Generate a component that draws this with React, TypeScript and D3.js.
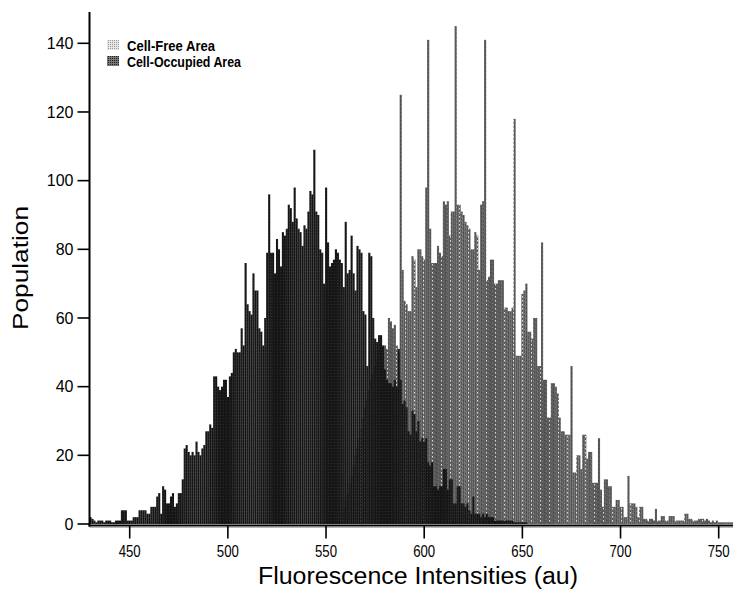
import React from "react";
import * as d3 from "d3";

// Histogram bins are 1 au wide; first bin of each series
const occupiedStart = 430;
const cellOccupied = [
  2, 1.5, 1, 0.5, 1, 1, 1, 0.5, 1, 1, 1, 0.5, 0.5, 1, 1, 1,
  4, 4, 4, 1, 1, 1, 2, 2, 2, 4, 4, 4, 4, 3, 3,
  5, 5, 5, 8, 9, 3, 11, 10, 6, 6, 8, 9, 5, 6, 9, 9, 13,
  22, 23, 21, 20, 21, 20, 24, 21, 20, 22, 23, 27, 27, 29, 28,
  43, 43, 40, 39, 40, 42, 42, 37, 43, 44, 50, 51, 50, 50, 57, 52,
  76, 64, 62, 61, 73, 68, 68, 57, 56, 52, 60, 79, 96, 79, 79, 73,
  83, 80, 75, 85, 84, 86, 93, 92, 88, 98, 89, 86, 85, 81, 87, 86,
  91, 97, 96, 109, 91, 90, 80, 79, 70, 98, 82, 75, 76, 77, 80, 79,
  77, 76, 69, 88, 73, 74, 84, 73, 68, 81, 80, 79, 62, 61, 46, 79,
  78, 60, 54, 53, 55, 55, 52, 45, 42, 41, 41, 40, 42, 40, 51, 42,
  35, 36, 34, 27, 26, 33, 32, 27, 30, 24, 25, 24, 25, 18, 17, 18,
  11, 11, 10, 11, 11, 16, 16, 10, 13, 13, 6, 6, 11, 11, 6, 6,
  5, 6, 4, 3, 8, 3, 3, 3, 2, 3, 2, 3, 2, 2, 2, 1,
  1, 1, 1, 1, 1, 1, 1, 1, 1, 0.5, 0.5, 0.5, 0.5, 0.5, 0.5, 0.5,
];

const freeStart = 558;
const cellFree = [
  3, 5, 7, 9, 12, 14, 17, 20, 22, 25, 28, 31, 34, 36, 39, 42,
  44, 46, 48, 50, 49, 51, 52, 51, 60, 59, 57, 58, 52, 50, 125, 74,
  65, 64, 62, 62, 78, 77, 69, 80, 80, 78, 77, 98, 141, 86, 76, 76,
  76, 81, 79, 78, 94, 93, 94, 84, 91, 91, 145, 93, 93, 91, 90, 88,
  87, 86, 80, 80, 85, 84, 74, 93, 94, 141, 71, 72, 77, 77, 70, 70,
  71, 71, 71, 63, 63, 62, 62, 63, 118, 49, 49, 49, 67, 68, 70, 56,
  56, 54, 60, 60, 46, 46, 82, 42, 42, 31, 31, 41, 41, 40, 38, 31,
  27, 27, 26, 26, 26, 46, 15, 15, 20, 20, 16, 26, 26, 19, 21, 21,
  12, 12, 12, 25, 10, 5, 13, 13, 11, 11, 5, 5, 7, 7, 5, 5,
  2, 2, 14, 6, 6, 6, 5, 2, 5, 5, 1.5, 1.5, 1, 1.5, 1.5, 1,
  4.4, 1, 1, 2.3, 2.3, 1, 1, 2.3, 2.3, 2.3, 1, 1, 1, 1, 1, 3,
  3, 1.5, 1.5, 1, 1, 1, 1.5, 1.5, 1.5, 1, 1.5, 1, 0.5, 1, 0.5, 1,
  0.5, 0.5, 0.5, 0.5, 0.5, 0.5, 0.5, 0.5,
];

const xTicks = [450, 500, 550, 600, 650, 700, 750];
const yTicks = [0, 20, 40, 60, 80, 100, 120, 140];
const legendLabels = ["Cell-Free Area", "Cell-Occupied Area"];

const W = 733;
const H = 589;

export default function App() {
  const x = d3.scaleLinear().domain([450, 750]).range([129.7, 718.7]);
  const y = d3.scaleLinear().domain([0, 140]).range([524, 43.3]);
  const axisX = 89.5;
  const axisY = 525.5;
  const font = "'Liberation Sans', Arial, Helvetica, sans-serif";

  const bars = (vals: number[], start: number, fill: string, key: string) =>
    vals.map((v, i) => {
      const x0 = x(start + i - 0.5);
      const x1 = x(start + i + 0.5);
      const yt = y(v);
      return (
        <rect
          key={key + i}
          x={x0}
          y={yt}
          width={x1 - x0 + 0.15}
          height={y(0) - yt}
          fill={fill}
        />
      );
    });

  return (
    <svg
      width={W}
      height={H}
      style={{ position: "absolute", left: 0, top: 0, background: "#fff" }}
    >
      <defs>
        <pattern id="freePat" patternUnits="userSpaceOnUse" width="9" height="4">
          <rect width="9" height="4" fill="#595959" />
          <rect x="2" y="1" width="1" height="1" fill="#777" />
          <rect x="6" y="3" width="1" height="1" fill="#777" />
          <rect x="4" y="0" width="1" height="1" fill="#444" />
          <rect x="0" y="0" width="1" height="1.5" fill="#dedede" />
        </pattern>
        <pattern id="occPat" patternUnits="userSpaceOnUse" width="3" height="3">
          <rect width="3" height="3" fill="#161616" />
          <rect x="1" y="1" width="1" height="1" fill="#2c2c2c" />
        </pattern>
        <pattern id="legFree" patternUnits="userSpaceOnUse" width="2" height="2">
          <rect width="2" height="2" fill="#e6e6e6" />
          <rect width="1" height="1" fill="#9a9a9a" />
        </pattern>
        <pattern id="legOcc" patternUnits="userSpaceOnUse" width="2" height="2">
          <rect width="2" height="2" fill="#777" />
          <rect width="1" height="1" fill="#222" />
        </pattern>
        <clipPath id="plotClip">
          <rect x={axisX} y={0} width={W - axisX} height={axisY} />
        </clipPath>
      </defs>

      <g clipPath="url(#plotClip)">
        {bars(cellFree, freeStart, "url(#freePat)", "f")}
        {bars(cellOccupied, occupiedStart, "url(#occPat)", "o")}
      </g>

      {/* axes */}
      <line x1={axisX} x2={axisX} y1={12} y2={axisY + 1} stroke="#000" strokeWidth={2} />
      <line x1={axisX - 1} x2={W} y1={axisY} y2={axisY} stroke="#000" strokeWidth={2} />
      <line x1={axisX} x2={W} y1={axisY + 2} y2={axisY + 2} stroke="#bbb" strokeWidth={1} />

      {yTicks.map((t) => (
        <g key={"y" + t}>
          <line x1={axisX - 12} x2={axisX} y1={y(t)} y2={y(t)} stroke="#000" strokeWidth={1.6} />
          <text
            x={axisX - 16}
            y={y(t)}
            dy="0.36em"
            textAnchor="end"
            fontFamily={font}
            fontSize={16}
            fill="#000"
          >
            {t}
          </text>
        </g>
      ))}

      {xTicks.map((t) => (
        <g key={"x" + t}>
          <line x1={x(t)} x2={x(t)} y1={axisY} y2={axisY + 13} stroke="#000" strokeWidth={1.6} />
          <text
            x={x(t)}
            y={axisY + 31}
            textAnchor="middle"
            fontFamily={font}
            fontSize={16}
            textLength={22}
            lengthAdjust="spacingAndGlyphs"
            fill="#000"
          >
            {t}
          </text>
        </g>
      ))}

      <text
        x={418}
        y={584}
        textAnchor="middle"
        fontFamily={font}
        fontSize={23}
        textLength={320}
        lengthAdjust="spacingAndGlyphs"
        fill="#000"
      >
        Fluorescence Intensities (au)
      </text>
      <text
        transform={`translate(28,268) rotate(-90)`}
        textAnchor="middle"
        fontFamily={font}
        fontSize={22}
        textLength={124}
        lengthAdjust="spacingAndGlyphs"
        fill="#000"
      >
        Population
      </text>

      {/* legend */}
      {legendLabels.map((lab, i) => (
        <g key={lab}>
          <rect
            x={107}
            y={40 + i * 16}
            width={12}
            height={10}
            fill={i === 0 ? "url(#legFree)" : "url(#legOcc)"}
          />
          <text
            x={127}
            y={51 + i * 16}
            fontFamily={font}
            fontSize={14.5}
            fontWeight="bold"
            textLength={i === 0 ? 88 : 114}
            lengthAdjust="spacingAndGlyphs"
            fill="#000"
          >
            {lab}
          </text>
        </g>
      ))}
    </svg>
  );
}
